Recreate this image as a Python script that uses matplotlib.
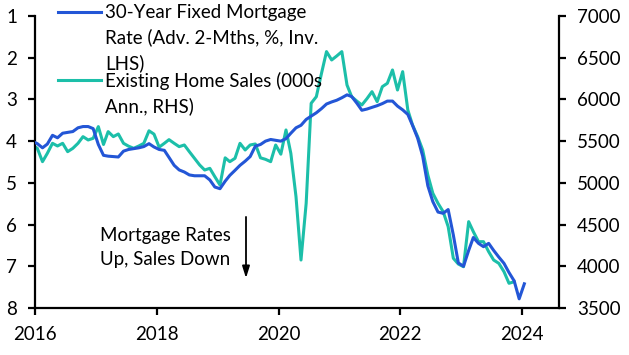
import pandas as pd
import matplotlib.pyplot as plt
from matplotlib.lines import Line2D

plt.rcParams['font.family'] = ['Lato', 'DejaVu Sans']

# 30-year fixed mortgage rate, advanced 2 months (%), Dec 2015 .. Jan 2024
mortgage_rate = [
    4.00, 4.06, 4.16, 4.07, 3.86, 3.92, 3.81, 3.79, 3.77, 3.68, 3.65, 3.65, 3.70,
    4.08, 4.34, 4.36, 4.37, 4.38, 4.24, 4.20, 4.18, 4.16, 4.13, 4.06, 4.14,
    4.20, 4.22, 4.39, 4.58, 4.69, 4.74, 4.81, 4.83, 4.83, 4.83, 4.93, 5.10,
    5.14, 4.96, 4.82, 4.70, 4.58, 4.48, 4.37, 4.12, 4.08, 4.00, 3.96, 3.98,
    4.00, 3.94, 3.81, 3.68, 3.62, 3.48, 3.40, 3.32, 3.22, 3.11, 3.06, 3.02,
    2.96, 2.89, 2.93, 3.09, 3.26, 3.23, 3.19, 3.15, 3.10, 3.04, 3.04, 3.16,
    3.25, 3.36, 3.62, 3.93, 4.36, 5.07, 5.45, 5.70, 5.73, 5.64, 6.25, 6.92,
    7.00, 6.62, 6.31, 6.45, 6.53, 6.45, 6.62, 6.78, 6.93, 7.15, 7.35, 7.78,
    7.42,
]
rate_dates = pd.date_range('2015-12-01', periods=len(mortgage_rate), freq='MS') + pd.Timedelta(days=14)

# Existing home sales (000s, annualised), Dec 2015 .. Nov 2023
home_sales = [
    5454, 5414, 5254, 5354, 5474, 5442, 5474, 5374, 5414, 5474, 5554, 5514, 5534,
    5674, 5460, 5614, 5554, 5586, 5474, 5440, 5414, 5442, 5474, 5624, 5584,
    5428, 5474, 5518, 5474, 5434, 5454, 5374, 5294, 5214, 5154, 5174, 5074,
    4974, 5300, 5254, 5294, 5474, 5394, 5454, 5466, 5300, 5282, 5254, 5454,
    5344, 5634, 5354, 4834, 4075, 4755, 5954, 6033, 6313, 6573, 6473, 6520,
    6573, 6173, 6033, 5980, 5933, 6010, 6093, 5973, 6153, 6193, 6353, 6113,
    6333, 5873, 5694, 5554, 5394, 5094, 4875, 4755, 4655, 4475, 4096, 4027,
    3995, 4535, 4415, 4295, 4295, 4175, 4075, 4035, 3935, 3796, 3815,
]
sales_dates = pd.date_range('2015-12-01', periods=len(home_sales), freq='MS') + pd.Timedelta(days=14)

year_ticks = [2016, 2018, 2020, 2022, 2024]
left_ticks = [1, 2, 3, 4, 5, 6, 7, 8]
right_ticks = [3500, 4000, 4500, 5000, 5500, 6000, 6500, 7000]

blue = '#2356d6'
teal = '#1cbfa9'

fig = plt.figure(figsize=(6.29, 3.55), dpi=100)
ax = fig.add_axes([35 / 629, 1 - 308 / 355, (559 - 35) / 629, (308 - 16) / 355])
ax2 = ax.twinx()

ax.plot(rate_dates, mortgage_rate, color=blue, lw=2.2, zorder=3)
ax2.plot(sales_dates, home_sales, color=teal, lw=2.2, zorder=2)
ax.set_zorder(ax2.get_zorder() + 1)
ax.patch.set_visible(False)

ax.set_xlim(pd.Timestamp('2016-01-01'), pd.Timestamp('2024-08-10'))
ax.set_ylim(8, 1)
ax2.set_ylim(3500, 7000)
ax.set_yticks(left_ticks)
ax2.set_yticks(right_ticks)
ax.set_xticks([pd.Timestamp(f'{y}-01-01') for y in year_ticks])
ax.set_xticklabels([str(y) for y in year_ticks])

for a in (ax, ax2):
    a.spines['top'].set_visible(False)
    for s in a.spines.values():
        s.set_linewidth(1.6)
    a.tick_params(width=1.6, length=5, labelsize=13.5, pad=8, direction='out')
ax.spines['right'].set_visible(False)
ax2.spines['left'].set_visible(False)
ax2.spines['bottom'].set_visible(False)

# annotation
ax.text(pd.Timestamp('2017-01-25'), 6.55, 'Mortgage Rates\nUp, Sales Down',
        fontsize=13.5, va='center', ha='left', linespacing=1.5)
ax.annotate('', xy=(pd.Timestamp('2019-06-20'), 7.35), xytext=(pd.Timestamp('2019-06-20'), 5.75),
            arrowprops=dict(arrowstyle='-|>,head_length=0.7,head_width=0.22', color='black', lw=1.3))

# legend drawn by hand so that each line sits next to the first row of its label
legend_items = [
    ('30-Year Fixed Mortgage\nRate (Adv. 2-Mths, %, Inv.\nLHS)', blue, 12),
    ('Existing Home Sales (000s\nAnn., RHS)', teal, 80),
]
for label, col, ypx in legend_items:
    yf = 1 - ypx / 355
    fig.add_artist(Line2D([58 / 629, 101 / 629], [yf, yf], color=col, lw=2.2))
    fig.text(105 / 629, yf + 8 / 355, label, fontsize=13.5, va='top', ha='left',
             linespacing=1.5)

fig.savefig('out.png', dpi=100)
